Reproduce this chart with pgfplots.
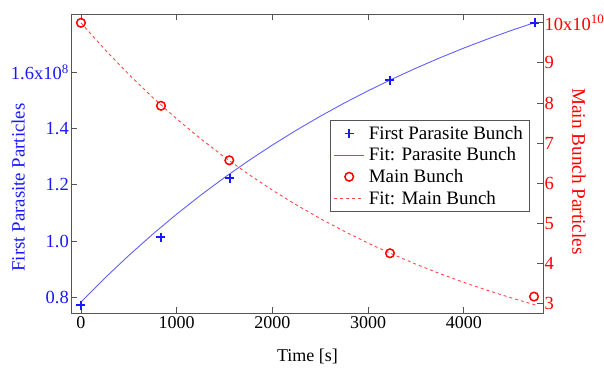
\documentclass[border=0pt]{standalone}
\usepackage{fontspec}
\setmainfont{Liberation Serif}
\usepackage{pgfplots}
\pgfplotsset{compat=1.18}
\definecolor{pblue}{RGB}{25,25,255}
\definecolor{fblue}{RGB}{95,95,255}
\definecolor{mred}{RGB}{255,0,0}
\definecolor{fred}{RGB}{255,70,70}
\definecolor{frame}{RGB}{85,85,85}
\begin{document}
\begin{tikzpicture}[font=\fontsize{18.5}{21}\selectfont]
\useasboundingbox (-71pt,-56pt) rectangle (533pt,313pt);
\pgfplotsset{every axis/.append style={
  at={(0pt,0pt)}, anchor=south west,
  scale only axis, width=472pt, height=299pt,
  xmin=-104, xmax=4828,
  tick align=inside, major tick length=6pt,
  axis line style={frame, line width=0.9pt},
  tick style={frame, line width=0.9pt},
  legend image code/.code={\draw[mark repeat=2,mark phase=2,#1] plot coordinates {(0pt,0pt)(15pt,0pt)(30pt,0pt)};},
}}
\begin{axis}[name=ax,
  ymin=0.746, ymax=1.806,
  ytick={0.8,1.0,1.2,1.4,1.6},
  yticklabels={0.8,1.0,1.2,1.4,{1.6x10\textsuperscript{8}}},
  yticklabel style={text=pblue, font=\fontsize{18.5}{21}\selectfont, inner xsep=2pt},
  ytick pos=left, xtick pos=both,
  xtick={0,1000,2000,3000,4000},
  xticklabels={0,1000,2000,3000,4000},
  xticklabel style={font=\fontsize{18}{21}\selectfont},
  xlabel={Time [s]},
  xlabel style={at={(axis description cs:0.501,-0.147)}, anchor=center, font=\fontsize{18}{21}\selectfont},
  ylabel={First Parasite Particles},
  ylabel style={text=pblue, at={(axis description cs:-0.112,0.42)}, anchor=center, font=\fontsize{18.8}{21}\selectfont},
]
\addplot[fblue, line width=0.9pt] coordinates {
(0,0.785)(250,0.870)(500,0.950)(750,1.0255)(1000,1.0965)(1250,1.1634)(1500,1.2263)
(1750,1.2857)(2000,1.3414)(2250,1.3939)(2500,1.4434)(2750,1.4900)(3000,1.5337)
(3250,1.5751)(3500,1.6139)(3750,1.6506)(4000,1.6851)(4250,1.7175)(4500,1.7480)(4750,1.7767)};
\addplot[pblue, only marks, mark=+, mark size=4.5pt, line width=1.6pt] coordinates {
(0,0.774)(836,1.015)(1557,1.224)(3229,1.572)(4744,1.775)};
\end{axis}
\begin{axis}[
  ymin=2.76, ymax=10.22,
  hide x axis,
  axis y line*=right,
  ytick={3,4,5,6,7,8,9,10},
  yticklabels={3,4,5,6,7,8,9,{10x10\textsuperscript{10}}},
  yticklabel style={text=mred, font=\fontsize{18.5}{21}\selectfont, inner xsep=1.5pt},
  ylabel={Main Bunch Particles},
  ylabel style={text=mred, at={(axis description cs:1.076,0.473)}, anchor=center, rotate=180, font=\fontsize{19.2}{21}\selectfont},
  legend style={at={(axis description cs:0.549,0.645)}, anchor=north west,
    draw=frame, line width=0.9pt,
    nodes={font=\fontsize{19}{21}\selectfont, inner ysep=1.5pt, inner xsep=4pt},
    row sep=4pt, inner xsep=3pt, inner ysep=4pt},
  legend cell align=left,
]
\addlegendimage{pblue, only marks, mark=+, mark size=4.5pt, line width=1.6pt}
\addlegendentry{First Parasite Bunch}
\addlegendimage{fblue, line width=1.2pt}
\addlegendentry{Fit: Parasite Bunch}
\addplot[mred, only marks, mark=o, mark size=4.3pt, line width=1.5pt] coordinates {
(0,10.0)(836,7.93)(1550,6.57)(3229,4.25)(4734,3.17)};
\addlegendentry{Main Bunch}
\addplot[fred, dashed, line width=0.9pt] coordinates {
(0,10)(250,9.332)(500,8.713)(750,8.138)(1000,7.604)(1250,7.109)(1500,6.649)
(1750,6.222)(2000,5.825)(2250,5.458)(2500,5.117)(2750,4.800)(3000,4.505)
(3250,4.232)(3500,3.978)(3750,3.743)(4000,3.524)(4250,3.323)(4500,3.134)(4750,2.959)};
\addlegendentry{Fit: Main Bunch}
\end{axis}
\end{tikzpicture}
\end{document}
